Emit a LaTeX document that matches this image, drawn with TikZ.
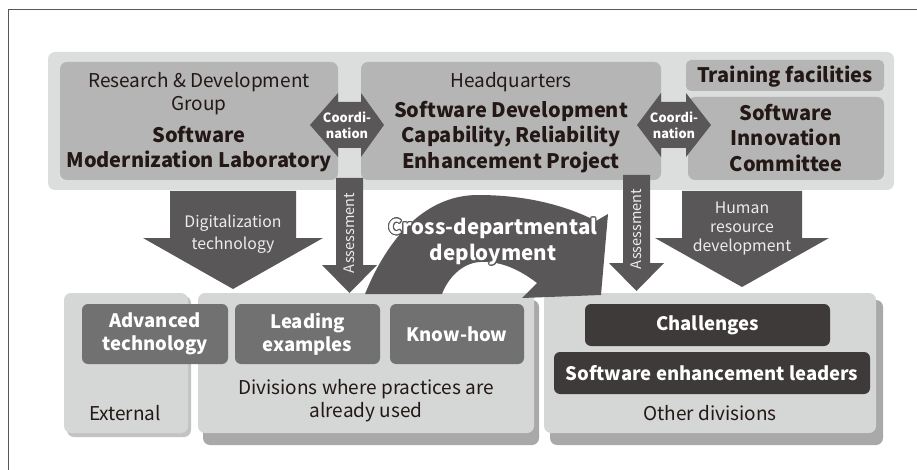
\documentclass[tikz,border=0pt]{standalone}
\usepackage{fontspec}
\setmainfont{Noto Sans CJK JP}
\usepackage{contour}
\contourlength{0.8pt}
\definecolor{framec}{HTML}{595757}
\definecolor{bandc}{HTML}{DCDDDD}
\definecolor{midc}{HTML}{B5B5B6}
\definecolor{arrc}{HTML}{595757}
\definecolor{innerc}{HTML}{727171}
\definecolor{darkc}{HTML}{3E3A39}
\definecolor{lowc}{HTML}{D5D6D6}
\definecolor{shadc}{HTML}{A9A9AA}
\definecolor{txtc}{HTML}{231815}
\definecolor{asc}{HTML}{EDEDED}
\tikzset{
  boxbase/.style={inner sep=0pt, outer sep=0pt, anchor=north west, rounded corners=7pt},
  bandbox/.style={boxbase, fill=bandc},
  midbox/.style={boxbase, fill=midc},
  lowbox/.style={boxbase, fill=lowc},
  shadbox/.style={boxbase, fill=shadc},
  innerbox/.style={boxbase, fill=innerc, rounded corners=6pt},
  darkbox/.style={boxbase, fill=darkc, rounded corners=6pt},
  regtxt/.style={text=txtc, align=center, font=\fontsize{19}{23}\selectfont},
  boldtxt/.style={text=txtc, align=center, font=\bfseries\fontsize{20}{25.5}\selectfont},
  whitebold/.style={text=white, align=center, font=\bfseries\fontsize{18.5}{23.5}\selectfont},
  arrtxt/.style={text=asc, align=center, font=\fontsize{15.8}{21.5}\selectfont},
  coordtxt/.style={text=white, align=center, font=\bfseries\fontsize{12.8}{16}\selectfont},
}
\begin{document}
\begin{tikzpicture}[x=1pt,y=-1pt]
\useasboundingbox (0,0) rectangle (917,470);
% frame
\coordinate (fbl) at (8,470);
\coordinate (ftl) at (8,10);
\coordinate (ftr) at (917,10);
\draw[framec, line width=1pt] (fbl) -- (ftl) -- (ftr);

% top band and boxes
\node[bandbox, minimum width=846pt, minimum height=138pt] (band) at (48,52) {};
\node[midbox, minimum width=278pt, minimum height=118pt] (rd) at (60,62) {};
\node[midbox, minimum width=300pt, minimum height=118pt] (hq) at (361,62) {};
\node[midbox, minimum width=198pt, minimum height=31pt, rounded corners=5pt] (tf) at (686,60) {};
\node[midbox, minimum width=196pt, minimum height=83pt] (sic) at (688,97) {};

\node[regtxt] (rdt) at (199,93.5) {Research \& Development\\Group};
\node[boldtxt] (rdb) at (199,149) {Software\\Modernization Laboratory};
\node[regtxt] (hqt) at (511,82.5) {Headquarters};
\node[boldtxt] (hqb) at (511,137) {Software Development\\Capability, Reliability\\Enhancement Project};
\node[boldtxt] (tft) at (785,76.5) {Training facilities};
\node[boldtxt] (sict) at (786,138) {Software\\Innovation\\Committee};

% coordination arrows
\fill[arrc] (310,125) -- (338,93) -- (338,102) -- (361,102) -- (361,93) -- (384,125) -- (361,157) -- (361,148) -- (338,148) -- (338,157) -- cycle;
\node[coordtxt] (co1) at (347,125) {Coordi-\\nation};
\fill[arrc] (637,125) -- (661,93) -- (661,102) -- (686,102) -- (686,93) -- (711,125) -- (686,157) -- (686,148) -- (661,148) -- (661,157) -- cycle;
\node[coordtxt] (co2) at (674,125) {Coordi-\\nation};

% bottom boxes
\node[boxbase, fill=shadc!70, minimum width=124pt, minimum height=141pt] (exts) at (67,296) {};
\node[lowbox, minimum width=124pt, minimum height=140pt] (ext) at (64,293) {};
\node[shadbox, minimum width=336pt, minimum height=145pt] (divs) at (203,300) {};
\node[lowbox, minimum width=336pt, minimum height=140pt] (div) at (198,293) {};
\node[shadbox, minimum width=333pt, minimum height=145pt] (oths) at (550,300) {};
\node[lowbox, minimum width=332pt, minimum height=140pt] (oth) at (544,293) {};

\node[innerbox, minimum width=146pt, minimum height=60pt] (adv) at (82,304) {};
\node[innerbox, minimum width=145pt, minimum height=60pt] (lead) at (235,304) {};
\node[innerbox, minimum width=134pt, minimum height=60pt] (know) at (390,304) {};
\node[darkbox, minimum width=245pt, minimum height=42pt] (chal) at (585,304) {};
\node[darkbox, minimum width=316pt, minimum height=42pt] (sel) at (554,352) {};

\node[whitebold] at (adv.center) {Advanced\\technology};
\node[whitebold] at (lead.center) {Leading\\examples};
\node[whitebold] at (know.center) {Know-how};
\node[whitebold] at (chal.center) {Challenges};
\node[whitebold] at (sel.center) {Software enhancement leaders};
\node[regtxt] (divt) at (366,401) {Divisions where practices are\\already used};
\node[regtxt] (extt) at (125,413) {External};
\node[regtxt] (otht) at (710,413) {Other divisions};

% big down arrows
\fill[arrc] (170,191) -- (296,191) -- (296,238) -- (323,238) -- (233,289) -- (143,238) -- (170,238) -- cycle;
\node[arrtxt] (digt) at (233,234) {Digitalization\\technology};
\fill[arrc] (682,191) -- (802,191) -- (802,238) -- (829,238) -- (742,287) -- (655,238) -- (682,238) -- cycle;
\node[arrtxt, font=\fontsize{15.8}{19}\selectfont] (hrt) at (742,228.5) {Human\\resource\\development};

% assessment arrows
\fill[arrc] (336,178) -- (363,178) -- (363,265) -- (377,265) -- (349.5,293) -- (322,265) -- (336,265) -- cycle;
\node[arrtxt, rotate=90, font=\fontsize{14.5}{16}\selectfont] (as1) at (349.5,233) {Assessment};
\fill[arrc] (623,175) -- (650,175) -- (650,263) -- (664,263) -- (636.5,291) -- (609,263) -- (623,263) -- cycle;
\node[arrtxt, rotate=90, font=\fontsize{14.5}{16}\selectfont] (as2) at (636.5,229) {Assessment};

% cross-departmental curved arrow
\fill[arrc] (365,294) .. controls (392,228) and (432,195) .. (478,195)
  .. controls (525,195) and (565,205) .. (596,221)
  -- (608,214) -- (601,295) -- (522,298) -- (537,283)
  .. controls (515,266) and (496,261) .. (480,262)
  .. controls (462,263) and (448,278) .. (442,294) -- cycle;
\node[text=white, align=center, font=\bfseries\fontsize{20.5}{26}\selectfont] (cdt) at (493,242) {\contour{arrc}{Cross-departmental}\\\contour{arrc}{deployment}};
\end{tikzpicture}
\end{document}
